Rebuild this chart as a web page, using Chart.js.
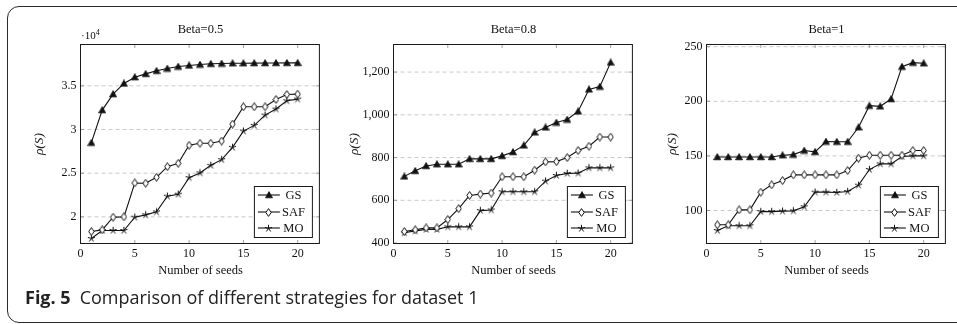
<!DOCTYPE html>
<html><head><meta charset="utf-8">
<script src="https://cdn.jsdelivr.net/npm/chart.js@4.4.0/dist/chart.umd.min.js"></script>
<style>
html,body{margin:0;padding:0;background:#fff}
body{width:957px;height:324px;overflow:hidden;position:relative;font-family:"Liberation Serif","Times New Roman",serif;color:#111}
#frame{position:absolute;left:7px;top:6px;width:1000px;height:317px;border:1.3px solid #2a2a2a;border-radius:12px;box-sizing:border-box}
canvas.cv{position:absolute;top:0}
.ttl{position:absolute;top:22px;width:240px;text-align:center;font-size:12.5px;line-height:14px}
.xl{position:absolute;top:263px;width:240px;text-align:center;font-size:12.5px;line-height:15px}
.mult{position:absolute;left:81px;top:27px;font-size:11px;line-height:12px}
.mult sup{font-size:8px;vertical-align:4px}
#cap{position:absolute;left:25px;top:286px;font-family:"Open Sans","Noto Sans",sans-serif;font-size:18px;line-height:22px;color:#222;white-space:nowrap}
#cap b{font-weight:700;margin-right:9px}
</style>
</head><body>
<div id="frame"></div>
<canvas class="cv" id="c1" width="304" height="290" style="left:20px"></canvas>
<canvas class="cv" id="c2" width="304" height="290" style="left:333px"></canvas>
<canvas class="cv" id="c3" width="304" height="290" style="left:646px"></canvas>
<div class="ttl" style="left:80.5px">Beta=0.5</div>
<div class="ttl" style="left:393.5px">Beta=0.8</div>
<div class="ttl" style="left:706.5px">Beta=1</div>
<div class="mult">·10<sup>4</sup></div>
<div class="xl" style="left:80.5px">Number of seeds</div>
<div class="xl" style="left:393.5px">Number of seeds</div>
<div class="xl" style="left:706.5px">Number of seeds</div>
<div id="cap"><b>Fig. 5</b>Comparison of different strategies for dataset 1</div>
<script>
// ---- data ----
const seeds = [1,2,3,4,5,6,7,8,9,10,11,12,13,14,15,16,17,18,19,20];
const seriesNames = ['GS','SAF','MO'];
const xTicks = [0,5,10,15,20];
const yAxisTitle = 'ρ(S)';

const beta05_GS  = [28490,32220,34050,35270,35990,36370,36720,36980,37210,37330,37440,37520,37550,37580,37590,37600,37610,37620,37630,37630];
const beta05_SAF = [18320,18510,19960,20000,23880,23850,24530,25750,26130,28190,28420,28420,28680,30620,32600,32600,32600,33440,34010,34050];
const beta05_MO  = [17520,18440,18440,18440,19960,20230,20570,22360,22590,24490,25030,25900,26550,27960,29820,30470,31650,32340,33290,33480];
const beta05_yTicks  = [20000,25000,30000,35000];
const beta05_yLabels = ['2','2.5','3','3.5'];

const beta08_GS  = [712,738,761,769,769,769,794,794,794,808,826,857,918,941,964,978,1016,1119,1132,1245];
const beta08_SAF = [454,462,471,471,510,561,623,629,634,710,710,710,741,780,781,800,833,853,896,896];
const beta08_MO  = [448,457,464,464,476,476,476,552,555,640,640,640,640,690,716,726,727,752,752,752];
const beta08_yTicks  = [400,600,800,1000,1200];
const beta08_yLabels = ['400','600','800','1,000','1,200'];

const beta1_GS  = [149,149,149,149,149,149,150.6,151.2,154.9,153.7,163.1,163,163,176.2,196,195.4,202.1,231.7,235.4,234.8];
const beta1_SAF = [86.9,86.9,100.6,100.6,116.8,123.5,127.4,132.6,132.6,132.6,132.6,132.6,136.6,147.9,150.6,150.6,150.6,150.6,154.9,154.9];
const beta1_MO  = [81.7,86,86,86,99,99,99.4,99.7,103.4,116.8,116.8,116.5,117.4,123.2,137.5,142.7,142.7,149.4,150,150];
const beta1_yTicks  = [100,150,200,250];
const beta1_yLabels = ['100','150','200','250'];

// ---- markers ----
function mkTri(){const c=document.createElement('canvas');c.width=8;c.height=8;const g=c.getContext('2d');
  g.beginPath();g.moveTo(4,0.6);g.lineTo(7.5,6.8);g.lineTo(0.5,6.8);g.closePath();g.fillStyle='#111';g.fill();g.lineWidth=0.8;g.strokeStyle='#111';g.stroke();return c;}
function mkDia(){const c=document.createElement('canvas');c.width=7;c.height=9;const g=c.getContext('2d');
  g.beginPath();g.moveTo(3.5,0.6);g.lineTo(6.2,4.5);g.lineTo(3.5,8.4);g.lineTo(0.8,4.5);g.closePath();g.fillStyle='#fff';g.fill();g.lineWidth=1;g.strokeStyle='#111';g.stroke();return c;}
function mkStar(){const c=document.createElement('canvas');c.width=9;c.height=9;const g=c.getContext('2d');
  g.lineWidth=1;g.strokeStyle='#111';g.beginPath();
  for(let k=0;k<5;k++){const a=-Math.PI/2+k*2*Math.PI/5;g.moveTo(4.5,4.5);g.lineTo(4.5+3.7*Math.cos(a),4.5+3.7*Math.sin(a));}
  g.stroke();return c;}
const markers=[mkTri(),mkDia(),mkStar()];

const FONT='"Liberation Serif","Times New Roman",serif';

const frame = {
  id:'pgfFrame',
  beforeDatasetsDraw(chart){
    const {ctx,chartArea:a,scales}=chart; const ys=scales.y, xs=scales.x;
    ctx.save();
    ctx.strokeStyle='#bdbdbd';ctx.lineWidth=0.8;ctx.setLineDash([4,3]);
    ys.ticks.forEach(t=>{const y=ys.getPixelForValue(t.value);
      if(y<a.bottom-1&&y>a.top+0.5){ctx.beginPath();ctx.moveTo(a.left,y);ctx.lineTo(a.right,y);ctx.stroke();}});
    ctx.setLineDash([]);
    ctx.strokeStyle='#8a8a8a';ctx.lineWidth=0.8;
    ys.ticks.forEach(t=>{const y=ys.getPixelForValue(t.value);
      ctx.beginPath();ctx.moveTo(a.left,y);ctx.lineTo(a.left+3.5,y);ctx.moveTo(a.right,y);ctx.lineTo(a.right-3.5,y);ctx.stroke();});
    xs.ticks.forEach(t=>{const x=xs.getPixelForValue(t.value);
      ctx.beginPath();ctx.moveTo(x,a.bottom);ctx.lineTo(x,a.bottom-3.5);ctx.moveTo(x,a.top);ctx.lineTo(x,a.top+3.5);ctx.stroke();});
    ctx.restore();
  },
  afterDraw(chart){
    const {ctx,chartArea:a}=chart;
    ctx.save();
    ctx.strokeStyle='#1a1a1a';ctx.lineWidth=1;
    ctx.strokeRect(a.left,a.top,a.right-a.left,a.bottom-a.top);
    // legend
    const w=58,h=51; const bx=a.right-7-w, by=a.bottom-6-h;
    ctx.fillStyle='#fff';ctx.fillRect(bx,by,w,h);
    ctx.strokeRect(bx,by,w,h);
    const rows=[8.5,25.5,41.5];
    ctx.font='12.5px '+FONT;ctx.textAlign='center';ctx.textBaseline='middle';
    chart.data.datasets.forEach((d,i)=>{
      const y=by+rows[i];
      ctx.strokeStyle='#111';ctx.lineWidth=1.1;
      ctx.beginPath();ctx.moveTo(bx+3.5,y);ctx.lineTo(bx+25.5,y);ctx.stroke();
      const m=markers[i];ctx.drawImage(m,Math.round(bx+14.5-m.width/2),Math.round(y-m.height/2));
      ctx.fillStyle='#111';ctx.fillText(d.label,bx+39,y+0.5);
    });
    ctx.restore();
  }
};

function makeChart(id,series,yMin,yMax,yTicks,yLabels,titlePad){
  const ds=series.map((vals,i)=>({
    label:seriesNames[i],
    data:seeds.map((s,j)=>({x:s,y:vals[j]})),
    borderColor:'#111',borderWidth:1.1,backgroundColor:'#111',
    pointStyle:markers[i],pointRadius:3.5,pointHoverRadius:3.5,tension:0,fill:false
  }));
  return new Chart(document.getElementById(id),{
    type:'line',
    data:{datasets:ds},
    plugins:[frame],
    options:{
      responsive:false,animation:false,
      layout:{padding:{top:44.5,right:3.5,left:0,bottom:0}},
      plugins:{legend:{display:false},tooltip:{enabled:false},title:{display:false}},
      scales:{
        x:{type:'linear',min:0,max:22,
          afterBuildTicks:s=>{s.ticks=xTicks.map(v=>({value:v}));},
          afterFit:s=>{s.height=46.5;},
          grid:{display:false,drawTicks:false},border:{display:false},
          ticks:{autoSkip:false,maxRotation:0,padding:3,color:'#111',font:{family:FONT,size:12}}},
        y:{type:'linear',min:yMin,max:yMax,
          afterBuildTicks:s=>{s.ticks=yTicks.map(v=>({value:v}));},
          afterFit:s=>{s.width=60.5;},
          grid:{display:false,drawTicks:false},border:{display:false},
          title:{display:true,text:yAxisTitle,color:'#222',padding:{top:titlePad,bottom:0},
            font:{family:FONT,size:13.5,style:'italic',lineHeight:1.2}},
          ticks:{padding:4,color:'#111',font:{family:FONT,size:12},callback:(v,i)=>yLabels[i]}}
      }
    }
  });
}
makeChart('c1',[beta05_GS,beta05_SAF,beta05_MO],16950,39730,beta05_yTicks,beta05_yLabels,11);
makeChart('c2',[beta08_GS,beta08_SAF,beta08_MO],398,1329,beta08_yTicks,beta08_yLabels,13);
makeChart('c3',[beta1_GS,beta1_SAF,beta1_MO],69.8,252,beta1_yTicks,beta1_yLabels,18.5);
</script>
</body></html>
